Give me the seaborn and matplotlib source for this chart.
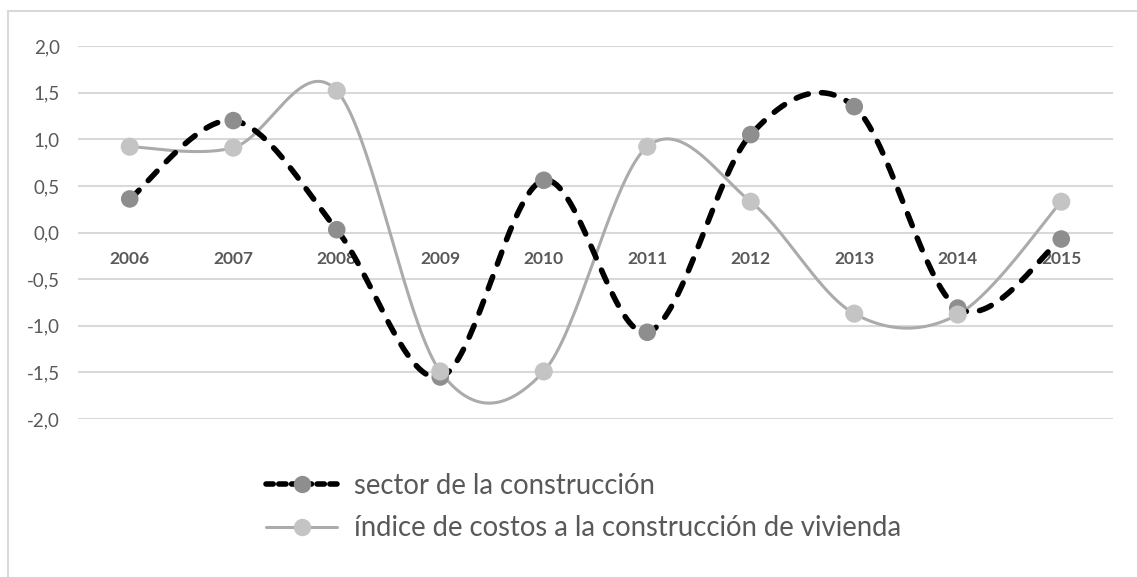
import numpy as np
import pandas as pd
import matplotlib
matplotlib.use("Agg")
import matplotlib.pyplot as plt
from matplotlib.lines import Line2D
from matplotlib.ticker import FuncFormatter
import seaborn as sns

years = ["2006", "2007", "2008", "2009", "2010", "2011", "2012", "2013", "2014", "2015"]
sector = [0.36, 1.20, 0.03, -1.55, 0.56, -1.07, 1.05, 1.35, -0.81, -0.07]
indice = [0.92, 0.91, 1.52, -1.49, -1.49, 0.92, 0.33, -0.87, -0.88, 0.33]
label_sector = "sector de la construcción"
label_indice = "índice de costos a la construcción de vivienda"
y_ticks = [-2.0, -1.5, -1.0, -0.5, 0.0, 0.5, 1.0, 1.5, 2.0]


def smooth(xs, ys, n=40):
    """Excel-style smoothed line (Catmull-Rom Bezier) for drawing only."""
    P = np.column_stack([xs, ys]).astype(float)
    m = len(P)
    out = []
    for i in range(m - 1):
        p0 = P[i - 1] if i > 0 else P[i]
        p1 = P[i]
        p2 = P[i + 1]
        p3 = P[i + 2] if i + 2 < m else P[i + 1]
        c1 = p1 + (p2 - p0) / 6.0
        c2 = p2 - (p3 - p1) / 6.0
        t = np.linspace(0, 1, n, endpoint=(i == m - 2))[:, None]
        b = ((1 - t) ** 3) * p1 + 3 * ((1 - t) ** 2) * t * c1 + 3 * (1 - t) * t ** 2 * c2 + t ** 3 * p2
        out.append(b)
    arr = np.vstack(out)
    return arr[:, 0], arr[:, 1]


sns.set_theme(style="white")
plt.rcParams["font.family"] = ["Lato", "DejaVu Sans"]

fig = plt.figure(figsize=(11.37, 5.77), dpi=100)
ax = fig.add_axes([78 / 1137, 1 - 419 / 577, 1035 / 1137, 373 / 577])

x = np.arange(len(years))
sx, sy = smooth(x, sector)
ix, iy = smooth(x, indice)
df_s = pd.DataFrame({"x": sx, "y": sy})
df_i = pd.DataFrame({"x": ix, "y": iy})
pts = pd.DataFrame({"x": x, "sector": sector, "indice": indice})

dark_marker = "#8e8e8e"
light_marker = "#c4c4c4"
light_line = "#ababab"

sns.lineplot(data=df_i, x="x", y="y", sort=False, ax=ax, color=light_line,
             linewidth=2.2, zorder=3, estimator=None)
sns.lineplot(data=df_s, x="x", y="y", sort=False, ax=ax, color="black",
             linewidth=4.0, zorder=4, estimator=None)
ax.lines[-1].set_dashes((2.3, 2.4))
ax.lines[-1].set_dash_capstyle("round")
sns.scatterplot(data=pts, x="x", y="sector", ax=ax, color=dark_marker, s=160,
                edgecolor="none", zorder=5)
sns.scatterplot(data=pts, x="x", y="indice", ax=ax, color=light_marker, s=170,
                edgecolor="none", zorder=6)

for s in ax.spines.values():
    s.set_visible(False)
ax.spines["bottom"].set_position(("data", 0))
ax.set_xlim(-0.5, len(years) - 0.5)
ax.set_ylim(-2.0, 2.0)
ax.set_yticks(y_ticks)
ax.yaxis.set_major_formatter(FuncFormatter(lambda v, p: f"{v:.1f}".replace(".", ",")))
ax.grid(axis="y", color="#d9d9d9", linewidth=1.5, zorder=0)
ax.set_axisbelow(True)
ax.set_xticks(x)
ax.set_xticklabels(years)
ax.tick_params(axis="x", length=0, pad=13)
ax.tick_params(axis="y", length=0, pad=13, labelsize=13.5, labelcolor="#595959")
for lbl in ax.get_xticklabels():
    lbl.set_fontweight("bold")
    lbl.set_color("#595959")
    lbl.set_fontsize(12.5)
ax.set_xlabel("")
ax.set_ylabel("")
ax.set_facecolor("none")

# chart border (top and left)
fig.add_artist(Line2D([8 / 1137, 8 / 1137], [0, 1 - 11 / 577], color="#d9d9d9", lw=1.5))
fig.add_artist(Line2D([8 / 1137, 1], [1 - 11 / 577, 1 - 11 / 577], color="#d9d9d9", lw=1.5))

h1 = Line2D([], [], color="black", lw=4.0, dashes=(1.3, 1.0), dash_capstyle="round",
            marker="o", markersize=12.5, markerfacecolor=dark_marker, markeredgecolor="none")
h2 = Line2D([], [], color=light_line, lw=2.2, marker="o", markersize=12.5,
            markerfacecolor=light_marker, markeredgecolor="none")
leg = fig.legend([h1, h2], [label_sector, label_indice], loc="upper left",
                 bbox_to_anchor=(241 / 1137, 1 - 448 / 577), frameon=False,
                 fontsize=19.8, handlelength=2.6, handletextpad=0.6, labelspacing=0.6)
for t in leg.get_texts():
    t.set_color("#595959")

fig.savefig("out.png", dpi=100, facecolor="white")
